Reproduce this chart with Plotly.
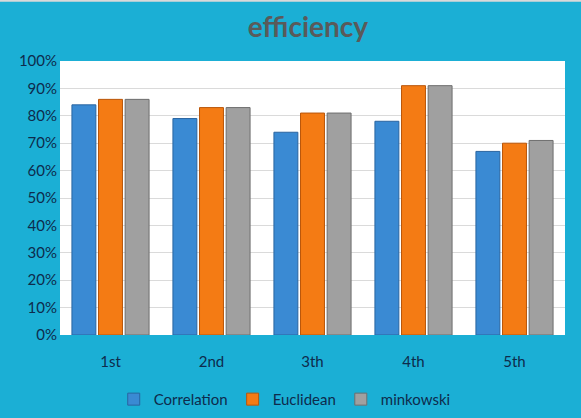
import plotly.graph_objects as go

categories = ["1st", "2nd", "3th", "4th", "5th"]
correlation = [0.84, 0.79, 0.74, 0.78, 0.67]
euclidean = [0.86, 0.83, 0.81, 0.91, 0.70]
minkowski = [0.86, 0.83, 0.81, 0.91, 0.71]

series = [
    ("Correlation", correlation, "#3A8AD3", "#2A65A0"),
    ("Euclidean", euclidean, "#F47B14", "#B9560A"),
    ("minkowski", minkowski, "#A0A0A0", "#6E6E6E"),
]

fig = go.Figure()
for name, vals, col, line in series:
    fig.add_trace(go.Bar(
        x=categories, y=vals, name=name,
        marker=dict(color=col, line=dict(color=line, width=1)),
    ))

font_fam = "Lato, Open Sans, sans-serif"
fig.update_layout(
    width=581, height=418,
    margin=dict(l=60, r=16, t=61, b=83, autoexpand=False),
    paper_bgcolor="#1BAFD5",
    plot_bgcolor="#FFFFFF",
    barmode="group",
    bargap=0.21,
    bargroupgap=0.1,
    title=dict(text="<b>efficiency</b>", x=0.53, xanchor="center", y=0.935, yanchor="middle",
               font=dict(family=font_fam, size=28, color="#5A5A5A")),
    font=dict(family=font_fam, size=15, color="#0E2B4C"),
    xaxis=dict(showgrid=False, showline=False, ticks="", ticklabelstandoff=16, automargin=False,
               tickfont=dict(size=15, color="#0E2B4C")),
    yaxis=dict(range=[0, 1.0], dtick=0.1, tickformat=".0%", showgrid=True, automargin=False,
               gridcolor="#DADADA", gridwidth=1, zeroline=False, showline=False,
               tickfont=dict(size=15, color="#0E2B4C"), ticklabelstandoff=2),
    legend=dict(orientation="h", x=0.445, xanchor="center", y=-0.235, yanchor="middle",
                font=dict(size=15, color="#0E2B4C"), bgcolor="rgba(0,0,0,0)",
                itemwidth=30, tracegroupgap=0),
    showlegend=True,
)
fig.add_shape(type="line", xref="paper", yref="paper", x0=-0.12, x1=1.04, y0=1.222, y1=1.222,
              line=dict(color="#D9D9D9", width=3), layer="above")
fig.write_html("out.html")
